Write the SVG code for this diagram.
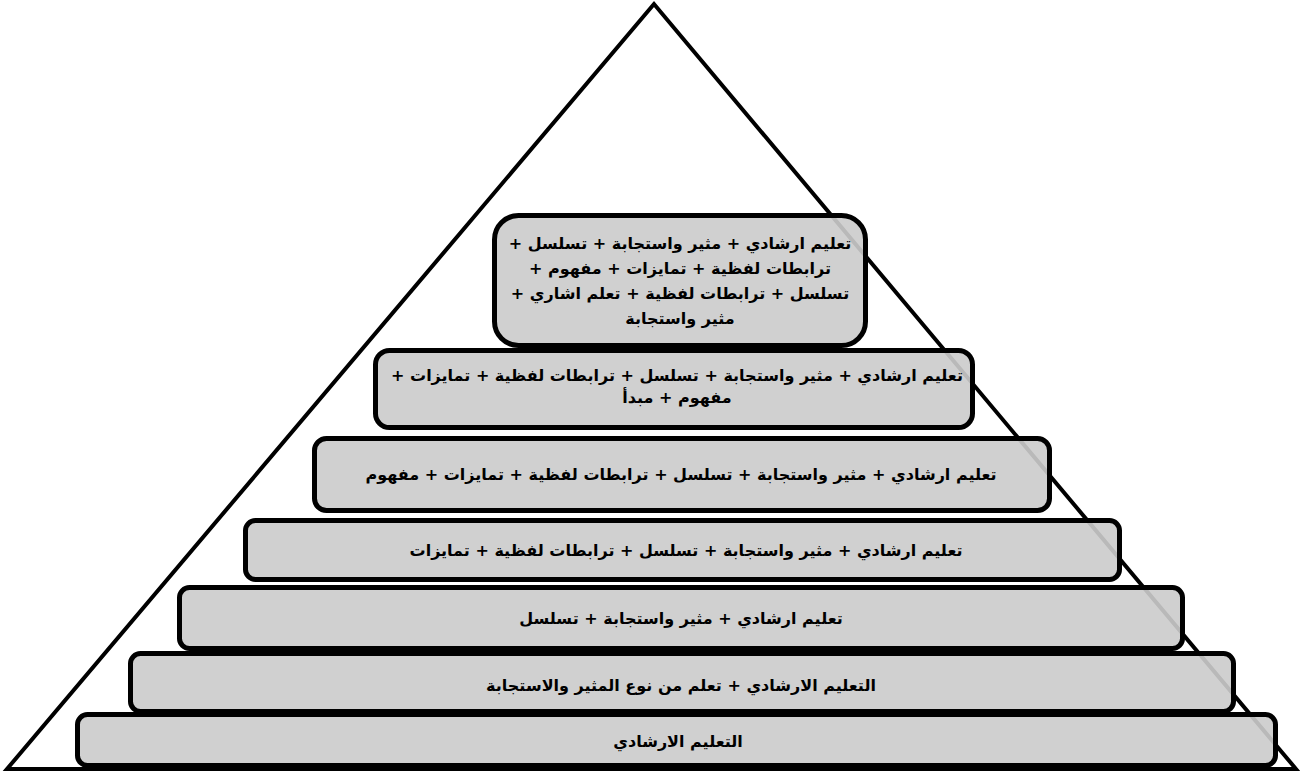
<svg xmlns="http://www.w3.org/2000/svg" width="1300" height="772" viewBox="0 0 1300 772">
<style>
.box{fill:#cbcbcb;fill-opacity:0.91;stroke:#000;stroke-width:5}
.t{font-family:"DejaVu Sans","Liberation Sans",sans-serif;font-weight:bold;font-size:16px;fill:#000;text-anchor:middle;direction:rtl}
</style>
<rect width="1300" height="772" fill="#fff"/>
<g id="pyramid">
<polygon points="654,4 7,769 1296,769" fill="none" stroke="#000" stroke-width="4" stroke-linejoin="miter"/>
</g>
<g id="level7">
<rect class="box" x="77.5" y="714.5" width="1198" height="51" rx="10"/>
<text class="t" x="678" y="747">التعليم الارشادي</text>
</g>
<g id="level6">
<rect class="box" x="130.5" y="653.5" width="1103" height="58" rx="10"/>
<text class="t" x="681" y="691">التعليم الارشادي + تعلم من نوع المثير والاستجابة</text>
</g>
<g id="level5">
<rect class="box" x="179.5" y="587.5" width="1003" height="61" rx="10"/>
<text class="t" x="681" y="624">تعليم ارشادي + مثير واستجابة + تسلسل</text>
</g>
<g id="level4">
<rect class="box" x="245.5" y="520.5" width="874" height="59" rx="10"/>
<text class="t" x="686" y="556">تعليم ارشادي + مثير واستجابة + تسلسل + ترابطات لفظية + تمايزات</text>
</g>
<g id="level3">
<rect class="box" x="314.5" y="438.5" width="735" height="72" rx="12"/>
<text class="t" x="681" y="480">تعليم ارشادي + مثير واستجابة + تسلسل + ترابطات لفظية + تمايزات + مفهوم</text>
</g>
<g id="level2">
<rect class="box" x="375.5" y="350.5" width="597" height="77" rx="14"/>
<text class="t" x="677" y="381">تعليم ارشادي + مثير واستجابة + تسلسل + ترابطات لفظية + تمايزات +</text>
<text class="t" x="677" y="403">مفهوم + مبدأ</text>
</g>
<g id="level1">
<rect class="box" x="494.5" y="215.5" width="371" height="130" rx="24"/>
<text class="t" x="680" y="249">تعليم ارشادي + مثير واستجابة + تسلسل +</text>
<text class="t" x="680" y="274">ترابطات لفظية + تمايزات + مفهوم +</text>
<text class="t" x="680" y="299">تسلسل + ترابطات لفظية + تعلم اشاري +</text>
<text class="t" x="680" y="324">مثير واستجابة</text>
</g>
<g id="connectors"></g>
</svg>
